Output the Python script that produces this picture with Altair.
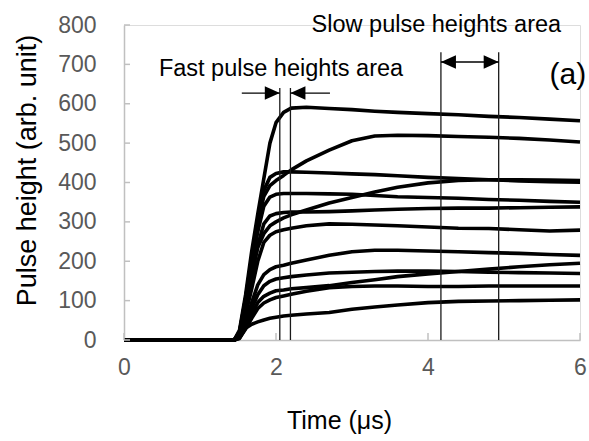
import altair as alt
import pandas as pd

# time grid (µs)
t = [0, 1.45, 1.52, 1.6, 1.68, 1.76, 1.84, 1.92, 2.0, 2.1, 2.2, 2.4, 2.7, 3.0, 3.3, 3.6, 4.0, 4.4, 4.8, 5.2, 5.6, 6.0]

# pulse waveforms (arb. unit)
curve_a = [0, 0, 25, 115, 225, 320, 410, 500, 552, 578, 589, 591, 588, 585, 581, 578, 575, 572, 568, 565, 561, 557]
curve_b = [0, 0, 20, 105, 205, 300, 365, 392, 405, 418, 432, 455, 482, 506, 518, 520, 519, 517, 515, 512, 508, 503]
curve_c = [0, 0, 20, 105, 210, 305, 380, 413, 423, 427, 427, 426, 424, 422, 420, 417, 413, 410, 407, 404, 402, 401]
curve_d = [0, 0, 15, 85, 170, 235, 270, 290, 300, 310, 318, 330, 348, 362, 376, 388, 399, 405, 407, 407, 406, 405]
curve_e = [0, 0, 18, 95, 190, 275, 340, 363, 370, 372, 372, 372, 371, 370, 367, 364, 362, 360, 357, 355, 352, 350]
curve_f = [0, 0, 15, 80, 160, 240, 295, 315, 321, 324, 325, 325, 326, 328, 330, 332, 334, 335, 335, 336, 337, 338]
curve_g = [0, 0, 12, 65, 130, 200, 248, 266, 275, 280, 284, 290, 295, 294, 292, 290, 287, 284, 283, 280, 277, 279]
curve_h = [0, 0, 8, 45, 95, 140, 166, 179, 186, 190, 195, 203, 215, 224, 228, 228, 226, 224, 222, 220, 217, 215]
curve_i = [0, 0, 7, 38, 80, 115, 138, 149, 155, 158, 161, 165, 170, 172, 174, 175, 175, 174, 172, 171, 170, 169]
curve_j = [0, 0, 6, 32, 65, 95, 111, 119, 125, 127, 130, 133, 138, 146, 153, 161, 168, 174, 180, 186, 191, 195]
curve_k = [0, 0, 5, 28, 55, 80, 94, 102, 108, 112, 116, 124, 133, 136, 137, 137, 136, 136, 137, 137, 137, 137]
curve_l = [0, 0, 4, 30, 40, 46, 51, 55, 58, 61, 63, 66, 70, 78, 84, 89, 95, 98, 99, 100, 101, 102]

curves = {"A": curve_a, "B": curve_b, "C": curve_c, "D": curve_d, "E": curve_e, "F": curve_f,
          "G": curve_g, "H": curve_h, "I": curve_i, "J": curve_j, "K": curve_k, "L": curve_l}

# measurement windows (vertical lines)
vline_t = [2.05, 2.19, 4.17, 4.93]
vline_top = [640, 640, 731, 731]

# arrows
shaft_x1 = [1.55, 2.19, 4.17]
shaft_x2 = [2.05, 2.71, 4.93]
shaft_y = [627, 627, 706]
head_right_x = [2.05, 4.93]
head_right_y = [627, 706]
head_left_x = [2.19, 4.17]
head_left_y = [627, 706]

# annotations
ann_text = ["Fast pulse heights area", "Slow pulse heights area"]
ann_x = [2.066, 4.11]
ann_y = [670, 782]
label_text = ["(a)"]
label_x = [5.84]
label_y = [650]

# axis ticks
x_ticks = [0, 2, 4, 6]
y_ticks = [0, 100, 200, 300, 400, 500, 600, 700, 800]

rows = []
for name, vals in curves.items():
    for ti, vi in zip(t, vals):
        rows.append({"curve": name, "t": ti, "v": vi})
df = pd.DataFrame(rows)

FONT = "Liberation Sans"
W, H = 456, 315

xscale = alt.Scale(domain=[0, 6], nice=False, zero=False)
yscale = alt.Scale(domain=[0, 800], nice=False)

x_axis = alt.Axis(values=x_ticks, format="d", title="Time (μs)", labelOverlap=False,
                  labelFlush=False, labelBound=False,
                  titleX=215, titleY=88, titleBaseline="alphabetic", titleAlign="center",
                  titleFontSize=25, labelPadding=16)
y_axis = alt.Axis(values=y_ticks, format="d", title="Pulse height (arb. unit)", labelOverlap=False,
                  labelFlush=False, labelBound=False, labelSeparation=0,
                  titleX=-89, titleY=145, titleBaseline="alphabetic", titleAlign="center",
                  titleAngle=270, titleFontSize=27, labelPadding=28, labelBaseline="middle")


def X(field):
    return alt.X(field, scale=xscale, axis=x_axis)


def Y(field):
    return alt.Y(field, scale=yscale, axis=y_axis)


lines = alt.Chart(df).mark_line(color="black", strokeWidth=3.6, strokeJoin="round").encode(
    x=X("t:Q"), y=Y("v:Q"), detail="curve:N",
)

xt = alt.Chart(pd.DataFrame({"t": x_ticks})).mark_rule(color="#c0c0c0", strokeWidth=1.5).encode(
    x=X("t:Q"), y=alt.value(H), y2=alt.value(H - 7))
yt = alt.Chart(pd.DataFrame({"v": y_ticks})).mark_rule(color="#c0c0c0", strokeWidth=1.5).encode(
    y=Y("v:Q"), x=alt.value(0), x2=alt.value(6))

vl = alt.Chart(pd.DataFrame({"t": vline_t, "top": vline_top, "v": [0] * 4})).mark_rule(
    color="#1a1a1a", strokeWidth=1.3).encode(
    x=X("t:Q"), y=Y("v:Q"), y2="top:Q")

shafts = alt.Chart(pd.DataFrame({"t": shaft_x1, "x2": shaft_x2, "v": shaft_y})).mark_rule(
    color="black", strokeWidth=1.3).encode(
    x=X("t:Q"), x2="x2:Q", y=Y("v:Q"))

hr = alt.Chart(pd.DataFrame({"t": head_right_x, "v": head_right_y})).mark_point(
    shape="M0,0L-2,-0.9L-2,0.9Z", filled=True, color="black", opacity=1, size=225).encode(
    x=X("t:Q"), y=Y("v:Q"))
hl = alt.Chart(pd.DataFrame({"t": head_left_x, "v": head_left_y})).mark_point(
    shape="M0,0L2,-0.9L2,0.9Z", filled=True, color="black", opacity=1, size=225).encode(
    x=X("t:Q"), y=Y("v:Q"))

ann = alt.Chart(pd.DataFrame({"t": ann_x, "v": ann_y, "s": ann_text})).mark_text(
    font=FONT, fontSize=23.5, color="black", align="center", baseline="alphabetic").encode(
    x=X("t:Q"), y=Y("v:Q"), text="s:N")
lab = alt.Chart(pd.DataFrame({"t": label_x, "v": label_y, "s": label_text})).mark_text(
    font=FONT, fontSize=30, color="black", align="center", baseline="alphabetic").encode(
    x=X("t:Q"), y=Y("v:Q"), text="s:N")

chart = alt.layer(lines, xt, yt, vl, shafts, hr, hl, ann, lab).properties(
    width=W, height=H,
    autosize=alt.AutoSizeParams(type="none"),
    padding={"left": 124, "top": 25, "right": 9, "bottom": 101},
).configure_view(stroke=None).configure(background="white").configure_axis(
    grid=False, tickSize=0, labelOverlap=False, labelFlush=False, labelBound=False,
    domainColor="#c0c0c0", domainWidth=1.5,
    labelColor="#595959", labelFont=FONT, labelFontSize=23,
    titleFont=FONT, titleFontWeight="normal", titleColor="black",
)

chart.save("out.html", embed_options={"renderer": "svg", "actions": False})
